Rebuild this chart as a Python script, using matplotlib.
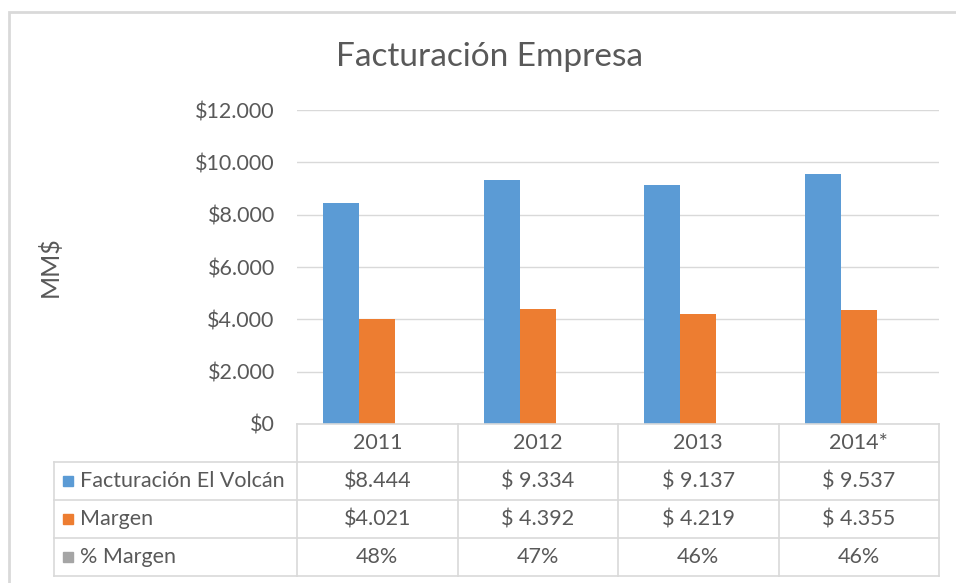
import matplotlib.pyplot as plt
from matplotlib.patches import Rectangle

years = ["2011", "2012", "2013", "2014*"]
facturacion = [8444, 9334, 9137, 9537]
margen = [4021, 4392, 4219, 4355]
pct_margen = [48, 47, 46, 46]

fact_labels = ["$8.444", "$ 9.334", "$ 9.137", "$ 9.537"]
marg_labels = ["$4.021", "$ 4.392", "$ 4.219", "$ 4.355"]
pct_labels = [f"{p}%" for p in pct_margen]
series_names = ["Facturación El Volcán", "Margen", "% Margen"]

blue = "#5B9BD5"
orange = "#ED7D31"
gray = "#A5A5A5"
text_c = "#595959"
grid_c = "#D9D9D9"

plt.rcParams['font.family'] = ['Lato', 'DejaVu Sans']

W, H = 956, 583
fig = plt.figure(figsize=(W / 100, H / 100), dpi=100)


def box(left, top, right, bottom):
    return [left / W, 1 - bottom / H, (right - left) / W, (bottom - top) / H]


# chart border
fig.patches.append(Rectangle((9 / W, -0.1), 1.2, 1 - 12 / H + 0.1, transform=fig.transFigure,
                             fill=False, edgecolor=grid_c, lw=2))

fig.text(489 / W, 1 - 57 / H, "Facturación Empresa", ha="center", va="center",
         fontsize=24, color=text_c)

# main plot, three series (the % one is a fraction, so its bar is invisible)
ax = fig.add_axes(box(297, 110, 939, 424))
x = list(range(len(years)))
bw = 0.225
ax.bar([i - bw for i in x], facturacion, bw, color=blue, zorder=3)
ax.bar(x, margen, bw, color=orange, zorder=3)
ax.bar([i + bw for i in x], [p / 100 for p in pct_margen], bw, color=gray, zorder=3)
ax.set_xlim(-0.5, 3.5)
ax.set_ylim(0, 12000)
ax.set_yticks(range(0, 12001, 2000))
ax.set_yticklabels(["$0", "$2.000", "$4.000", "$6.000", "$8.000", "$10.000", "$12.000"])
ax.tick_params(axis="y", length=0, pad=16, labelsize=15.5, labelcolor=text_c)
ax.set_xticks([])
ax.grid(axis="y", color=grid_c, lw=1, zorder=0)
for s in ax.spines.values():
    s.set_visible(False)
ax.set_ylabel("MM$", fontsize=18, color=text_c)
ax.yaxis.set_label_coords((62 - 297) / (939 - 297), 0.5)

# data table
unit = (939 - 297) / 4
left = -0.5 - (297 - 54) / unit
tx = fig.add_axes(box(54, 424, 939, 576))
tx.set_xlim(left, 3.5)
tx.set_ylim(4, 0)
tx.axis("off")
lk = dict(color=grid_c, lw=1.2, clip_on=False)
tx.plot([-0.5, 3.5], [0, 0], **lk)
for r in range(1, 5):
    tx.plot([left, 3.5], [r, r], **lk)
for c in [-0.5, 0.5, 1.5, 2.5, 3.5]:
    tx.plot([c, c], [0, 4], **lk)
tx.plot([left, left], [1, 4], **lk)

for i, yr in enumerate(years):
    tx.text(i, 0.5, yr, ha="center", va="center", fontsize=15.5, color=text_c)

rows = [fact_labels, marg_labels, pct_labels]
colors = [blue, orange, gray]
for r, (name, vals, col) in enumerate(zip(series_names, rows, colors), start=1):
    tx.plot(left + 14 / unit, r + 0.5, marker="s", ms=7.5, color=col, clip_on=False)
    tx.text(left + 26 / unit, r + 0.5, name, ha="left", va="center", fontsize=15.5, color=text_c)
    for i, v in enumerate(vals):
        tx.text(i, r + 0.5, v, ha="center", va="center", fontsize=15.5, color=text_c)

fig.savefig("out.png", dpi=100)
